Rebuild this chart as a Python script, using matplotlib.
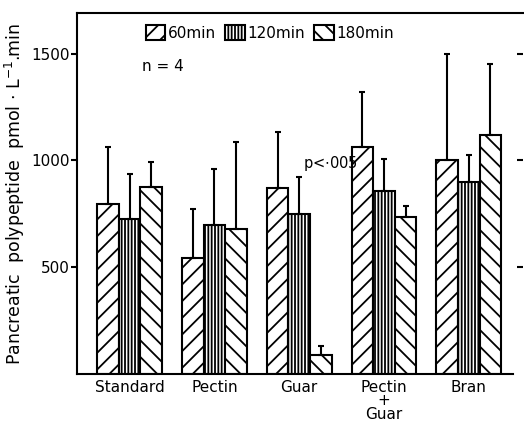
import numpy as np
import matplotlib
matplotlib.use('Agg')
import matplotlib.pyplot as plt

# data
diets = ['Standard', 'Pectin', 'Guar', 'Pectin\n+\nGuar', 'Bran']
periods = ['60min', '120min', '180min']
mean_60 = [794, 542, 869, 1065, 1000]
mean_120 = [724, 696, 748, 855, 897]
mean_180 = [874, 678, 89, 734, 1121]
top_60 = [1065, 771, 1131, 1322, 1500]
top_120 = [935, 958, 921, 1005, 1023]
top_180 = [991, 1084, 131, 785, 1449]

plt.rcParams['font.family'] = 'DejaVu Sans'
plt.rcParams['hatch.linewidth'] = 1.3

fig = plt.figure(figsize=(5.24, 4.24), dpi=100)
ax = fig.add_axes([77/524, 1 - 374/424, 446/524, 361/424])

x = np.arange(len(diets))
w = 0.255
hatches = ['//', '|||||', '\\\\']
means = [mean_60, mean_120, mean_180]
tops = [top_60, top_120, top_180]
for k in range(3):
    xs = x + (k - 1) * w
    ax.bar(xs, means[k], width=w, facecolor='white', edgecolor='black',
           hatch=hatches[k], lw=1.5, label=periods[k], zorder=2)
    err = np.array(tops[k]) - np.array(means[k])
    ax.errorbar(xs, means[k], yerr=[np.zeros_like(err), err], fmt='none',
                ecolor='black', elinewidth=1.5, capsize=2.5, capthick=1.5, zorder=3)

ax.set_xlim(-0.62, 4.64)
ax.set_ylim(0, 1690)
ax.set_yticks([500, 1000, 1500])
ax.set_xticks(x)
ax.set_xticklabels(diets, fontsize=11, linespacing=0.9)
ax.tick_params(axis='y', labelsize=11, length=4, width=1.5, direction='out', pad=1)
ax.tick_params(axis='x', length=0, pad=4)
for s in ['left', 'bottom', 'top']:
    ax.spines[s].set_linewidth(1.5)
ax.spines['right'].set_visible(False)
ax.spines['bottom'].set_bounds(-0.62, 4.52)

# inward ticks on the right edge
ax2 = ax.twinx()
ax2.set_ylim(ax.get_ylim())
ax2.set_yticks([500, 1000, 1500])
ax2.tick_params(axis='y', direction='in', length=4, width=1.5, labelright=False)
for s in ax2.spines.values():
    s.set_visible(False)

ax.set_ylabel('Pancreatic  polypeptide  pmol $\\cdot$ L$^{-1}$.min', fontsize=12.5, labelpad=3)

ax.legend(ncol=3, frameon=False, loc='upper left', bbox_to_anchor=(0.14, 0.985),
          fontsize=11, handlelength=1.3, handleheight=1.2, handletextpad=0.15,
          columnspacing=0.6, borderaxespad=0)
ax.text(0.145, 0.84, 'n = 4', transform=ax.transAxes, fontsize=11)
ax.text(2.05, 985, 'p<$\\cdot$005', fontsize=10.5, va='center', ha='left')

fig.savefig('out.png', dpi=100)
